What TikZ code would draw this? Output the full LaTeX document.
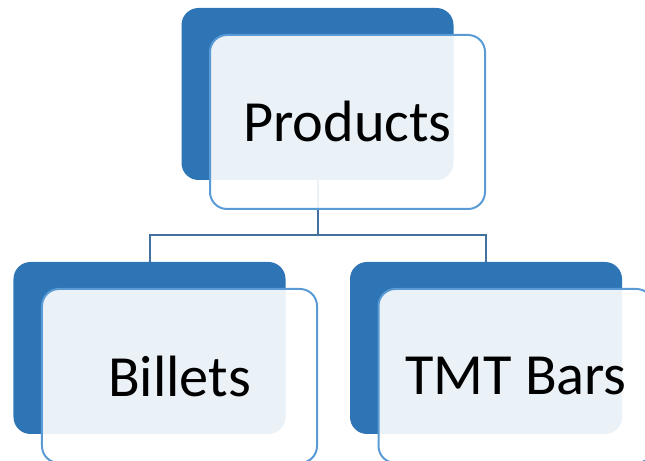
\documentclass[tikz,border=0pt]{standalone}
\usepackage{fontspec}
\setmainfont{Carlito}
\usetikzlibrary{positioning}
\definecolor{backblue}{HTML}{2E75B6}
\definecolor{edgeblue}{HTML}{5B9BD5}
\definecolor{linkblue}{HTML}{41719C}

\begin{document}
\begin{tikzpicture}[x=1bp, y=1bp, backbox/.style={fill=backblue, rounded corners=17bp, minimum width=272bp, minimum height=172bp, inner sep=0pt}, frontbox/.style={draw=edgeblue, line width=2bp, fill=white, fill opacity=0.9, text opacity=1, rounded corners=17bp, minimum width=275bp, minimum height=174bp, inner sep=0pt, font=\fontsize{58.5}{70}\selectfont, xshift=30bp, yshift=-28bp}, link/.style={draw=linkblue, line width=2bp}]
\useasboundingbox (0,0) rectangle (645,461);
\clip (0,0) rectangle (645,461);
% dark back plates
\node[backbox] (prodback) at (317.5,367) {};
\node[backbox] (billback) at (149.5,113) {};
\node[backbox] (tmtback) at (486,113) {};
% tree links, under the front cards
\draw[link] (prodback.south) -- ++(0,-55) coordinate (split) -| (billback.north);
\draw[link] (split) -| (tmtback.north);
% front cards with the labels
\node[frontbox] (prodfront) at (prodback) {\raisebox{1.5bp}{Products}};
\node[frontbox] (billfront) at (billback) {Billets};
\node[frontbox] (tmtfront) at (tmtback) {TMT Bars};
\end{tikzpicture}
\end{document}
